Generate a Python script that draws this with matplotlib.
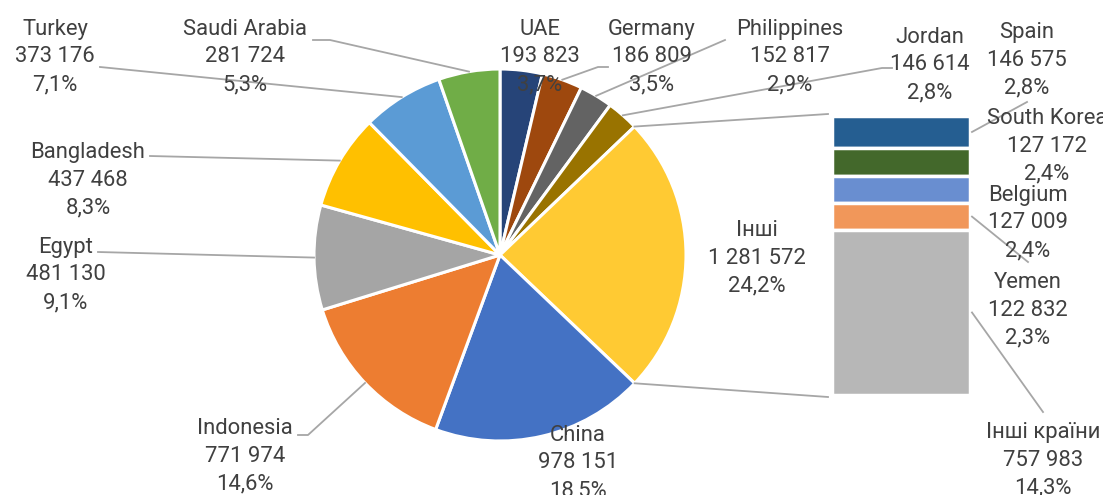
import numpy as np
import matplotlib
matplotlib.use("Agg")
import matplotlib.pyplot as plt

# Дані: кругова діаграма (за годинниковою стрілкою від 12 години)
pie_names = ["UAE", "Germany", "Philippines", "Jordan", "Інші", "China",
             "Indonesia", "Egypt", "Bangladesh", "Turkey", "Saudi Arabia"]
pie_values = [193823, 186809, 152817, 146614, 1281572, 978151,
              771974, 481130, 437468, 373176, 281724]
pie_colors = ["#264478", "#9E480E", "#636363", "#997300", "#FFCA33", "#4472C4",
              "#ED7D31", "#A5A5A5", "#FFC000", "#5B9BD5", "#70AD47"]

# Дані: стовпчик "Інші" (зверху вниз)
bar_names = ["Spain", "South Korea", "Belgium", "Yemen", "Інші країни"]
bar_values = [146575, 127172, 127009, 122832, 757983]
bar_colors = ["#255E91", "#43682B", "#698ED0", "#F1975A", "#B7B7B7"]

W, H = 1103, 495
TXT = "#404040"
LINE = "#A6A6A6"
FS = 15.8
LS = 1.42
DY = 3  # зсув підписів униз
plt.rcParams['font.family'] = ['Roboto', 'DejaVu Sans']

def P(x, y):
    # піксельні координати (від верхнього лівого кута) -> координати осей
    return x, H - y

total = sum(pie_values)

def label(name, v):
    num = f"{v:,}".replace(",", " ")
    pct = f"{100 * v / total:.1f}".replace(".", ",")
    return f"{name}\n{num}\n{pct}%"

fig = plt.figure(figsize=(W / 100, H / 100), dpi=100)
ax = fig.add_axes([0, 0, 1, 1])

cx, cy = P(500, 255)
R = 186
ax.pie(pie_values, colors=pie_colors, startangle=90, counterclock=False,
       center=(cx, cy), radius=R, frame=True,
       wedgeprops=dict(edgecolor="white", linewidth=2.2))
ax.set_xlim(0, W)
ax.set_ylim(0, H)
ax.axis("off")

# кути (від 12 години за годинниковою)
cum = np.cumsum([0] + pie_values) / total * 360
mids = (cum[:-1] + cum[1:]) / 2

def edge(deg):
    a = np.radians(deg)
    return cx + R * np.sin(a), cy + R * np.cos(a)

# стовпчик
bx0, bx1 = 832, 970
btop, bbot = 116, 395
bh = bbot - btop
bsum = sum(bar_values)
y = btop
bar_mid = []
for v, c in zip(bar_values, bar_colors):
    h = v / bsum * bh
    x0, y0 = P(bx0, y + h)
    ax.bar(x0, h, width=bx1 - bx0, bottom=y0, align="edge", color=c,
           edgecolor="white", linewidth=2.5)
    bar_mid.append(y + h / 2)
    y += h

# з'єднувальні лінії круга і стовпчика
oi = pie_names.index("Інші")
for ang, yb in [(cum[oi], btop - 2), (cum[oi + 1], bbot + 2)]:
    ex, ey = edge(ang)
    bx, by = P(bx0 - 4, yb)
    ax.plot([ex, bx], [ey, by], color=LINE, lw=1.3)

# підписи круга: центр тексту та точка прив'язки лінії
pie_lab = {
    "UAE": ((540, 54), None),
    "Germany": ((652, 54), [(608, 67), (598, 67)]),
    "Philippines": ((790, 54), [(725, 40)]),
    "Jordan": ((930, 62), [(892, 68), (882, 68)]),
    "Інші": ((757, 255), None),
    "China": ((578, 460), None),
    "Indonesia": ((245, 453), [(298, 435), (308, 435)]),
    "Egypt": ((66, 272), [(98, 252)]),
    "Bangladesh": ((88, 177), [(150, 156)]),
    "Turkey": ((55, 54), [(100, 67)]),
    "Saudi Arabia": ((245, 54), [(313, 40), (330, 40)]),
}
for i, (n, v) in enumerate(zip(pie_names, pie_values)):
    (tx, ty), pts = pie_lab[n]
    ax.text(*P(tx, ty + DY), label(n, v), ha="center", va="center",
            fontsize=FS, color=TXT, linespacing=LS)
    if pts:
        xs = [P(*p)[0] for p in pts]
        ys = [P(*p)[1] for p in pts]
        ex, ey = edge(mids[i])
        ax.plot(xs + [ex], ys + [ey], color=LINE, lw=1.3)

# підписи стовпчика
bar_lab = {
    "Spain": ((1027, 57), (1027, 102)),
    "South Korea": ((1047, 143), None),
    "Belgium": ((1028, 220), None),
    "Yemen": ((1028, 307), (1028, 262)),
    "Інші країни": ((1043, 457), (1043, 412)),
}
for i, (n, v) in enumerate(zip(bar_names, bar_values)):
    (tx, ty), pt = bar_lab[n]
    ax.text(*P(tx, ty + DY), label(n, v), ha="center", va="center",
            fontsize=FS, color=TXT, linespacing=LS)
    if pt:
        ax.plot([P(*pt)[0], P(bx1 + 2, 0)[0]], [P(*pt)[1], P(0, bar_mid[i])[1]],
                color=LINE, lw=1.3)

fig.savefig("out.png", dpi=100)
